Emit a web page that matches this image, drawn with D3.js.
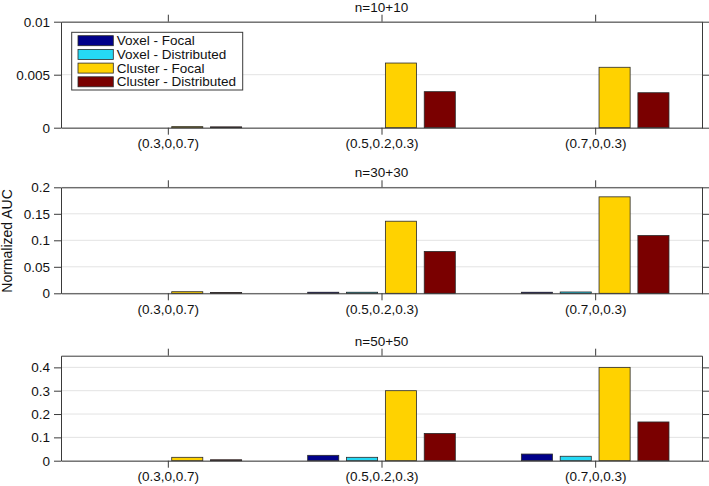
<!DOCTYPE html>
<html><head><meta charset="utf-8">
<script src="https://cdn.jsdelivr.net/npm/d3@7"></script>
<style>html,body{margin:0;padding:0;background:#fff;}svg{display:block;font-family:"Liberation Sans",Arial,Helvetica,sans-serif;}</style>
</head><body>
<script>
const categories = ["(0.3,0,0.7)", "(0.5,0.2,0.3)", "(0.7,0,0.3)"];
const seriesNames = ["Voxel - Focal", "Voxel - Distributed", "Cluster - Focal", "Cluster - Distributed"];
const seriesColors = ["#00008a", "#25d9f5", "#ffd200", "#7a0000"];
const panelTitles = ["n=10+10", "n=30+30", "n=50+50"];

// n=10+10
const n10VoxelFocal = [0, 0, 0];
const n10VoxelDistributed = [0, 0, 0];
const n10ClusterFocal = [0.0001, 0.0061, 0.0057];
const n10ClusterDistributed = [0.00008, 0.0034, 0.0033];
// n=30+30
const n30VoxelFocal = [0, 0.002, 0.002];
const n30VoxelDistributed = [0, 0.002, 0.0025];
const n30ClusterFocal = [0.003, 0.136, 0.182];
const n30ClusterDistributed = [0.0015, 0.079, 0.109];
// n=50+50
const n50VoxelFocal = [0, 0.023, 0.0285];
const n50VoxelDistributed = [0, 0.0145, 0.019];
const n50ClusterFocal = [0.0145, 0.30, 0.40];
const n50ClusterDistributed = [0.004, 0.117, 0.166];

const yMax = [0.01, 0.2, 0.45];
const yTicks1 = [0, 0.005, 0.01];
const yTicks2 = [0, 0.05, 0.1, 0.15, 0.2];
const yTicks3 = [0, 0.1, 0.2, 0.3, 0.4];

const panelData = [
  [n10VoxelFocal, n10VoxelDistributed, n10ClusterFocal, n10ClusterDistributed],
  [n30VoxelFocal, n30VoxelDistributed, n30ClusterFocal, n30ClusterDistributed],
  [n50VoxelFocal, n50VoxelDistributed, n50ClusterFocal, n50ClusterDistributed]
];
const panelTicks = [yTicks1, yTicks2, yTicks3];

const W = 709, H = 486;
const left = 61, right = 702;
const panels = [{top: 21.7, bottom: 127.7}, {top: 187.3, bottom: 293.3}, {top: 355.7, bottom: 460.7}];

const svg = d3.select("body").append("svg").attr("width", W).attr("height", H);

const x = d3.scaleLinear().domain([0.5, 3.5]).range([left, right]);
const groupWidth = Math.min(0.8, 4 / (4 + 1.5));
const inner = d3.scaleBand().domain(d3.range(4)).range([-groupWidth / 2, groupWidth / 2]).paddingInner(0.2).paddingOuter(0.1);

const axisColor = "#3a3a3a";
const fontSize = 13.5;
const fmt = v => String(+v.toFixed(4));

panels.forEach((p, pi) => {
  const g = svg.append("g");
  const y = d3.scaleLinear().domain([0, yMax[pi]]).range([p.bottom, p.top]);
  // grid
  g.selectAll("line.grid").data(panelTicks[pi]).enter().append("line")
    .attr("x1", left).attr("x2", right)
    .attr("y1", d => y(d)).attr("y2", d => y(d))
    .attr("stroke", "#e3e3e3").attr("stroke-width", 1);
  // bars
  panelData[pi].forEach((vals, si) => {
    g.selectAll(null).data(vals).enter().append("rect")
      .attr("x", (d, ci) => x(ci + 1 + inner(si)))
      .attr("width", x(inner.bandwidth()) - x(0))
      .attr("y", d => y(d))
      .attr("height", d => y(0) - y(d))
      .attr("fill", seriesColors[si])
      .attr("stroke", "#2a2a2a").attr("stroke-width", 0.8);
  });
  // axes
  const yl = d3.axisLeft(y).tickValues(panelTicks[pi]).tickFormat(fmt).tickSizeInner(7).tickSizeOuter(0).tickPadding(4);
  const yr = d3.axisRight(y).tickValues(panelTicks[pi]).tickFormat("").tickSizeInner(7).tickSizeOuter(0);
  const xb = d3.axisBottom(x).tickValues([1, 2, 3]).tickFormat((d, i) => categories[i]).tickSizeInner(7).tickSizeOuter(0).tickPadding(4);
  const xt = d3.axisTop(x).tickValues([1, 2, 3]).tickFormat("").tickSizeInner(7).tickSizeOuter(0);
  const ax = [
    g.append("g").attr("transform", `translate(${left},0)`).call(yl),
    g.append("g").attr("transform", `translate(${right},0)`).call(yr),
    g.append("g").attr("transform", `translate(0,${p.bottom})`).call(xb),
    g.append("g").attr("transform", `translate(0,${p.top})`).call(xt)
  ];
  ax.forEach(a => {
    a.select(".domain").attr("stroke", axisColor).attr("stroke-width", 1);
    a.selectAll(".tick line").attr("stroke", axisColor).attr("stroke-width", 1);
    a.selectAll(".tick text").attr("fill", "#111").style("font-size", fontSize + "px").style("font-family", '"Liberation Sans",Arial,sans-serif');
  });
  // title
  g.append("text").attr("x", (left + right) / 2).attr("y", p.top - 10)
    .attr("text-anchor", "middle").style("font-size", fontSize + "px").attr("fill", "#111")
    .text(panelTitles[pi]);
});

// y label
svg.append("text").attr("transform", `translate(12,241) rotate(-90)`)
  .attr("text-anchor", "middle").style("font-size", "14px").attr("fill", "#111")
  .text("Normalized AUC");

// legend
const lg = svg.append("g").attr("transform", "translate(71.7,32.3)");
lg.append("rect").attr("width", 171).attr("height", 57.7).attr("fill", "#fff").attr("stroke", "#3a3a3a").attr("stroke-width", 1);
seriesNames.forEach((s, i) => {
  const cy = 8.4 + i * 13.7;
  lg.append("rect").attr("x", 6.3).attr("y", cy - 5).attr("width", 35.3).attr("height", 10)
    .attr("fill", seriesColors[i]).attr("stroke", "#2a2a2a").attr("stroke-width", 0.8);
  lg.append("text").attr("x", 45).attr("y", cy + 4.6).style("font-size", "13.5px").attr("fill", "#111").text(s);
});
</script>
</body></html>
